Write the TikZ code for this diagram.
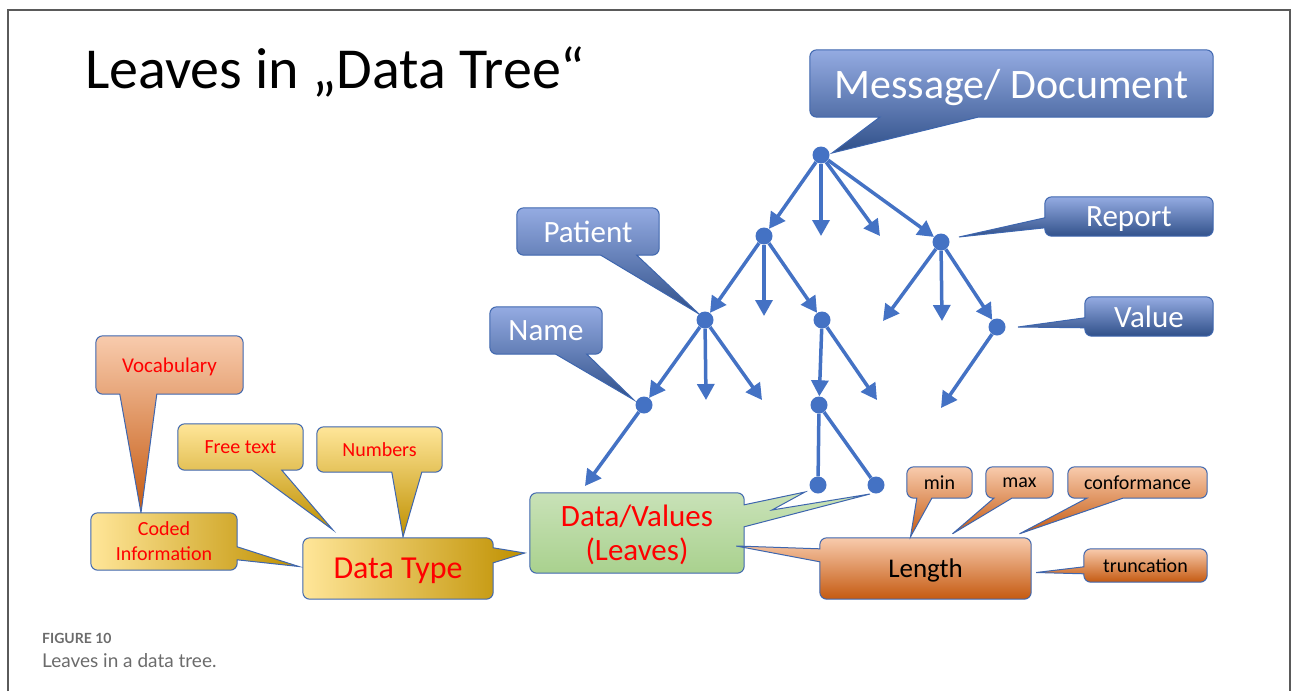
\documentclass[tikz,border=0pt]{standalone}
\usepackage{fontspec}
\setmainfont{Carlito}
\newfontfamily\latofont{Lato}
\usetikzlibrary{arrows.meta,calc,backgrounds}

\definecolor{treeblue}{HTML}{4472C4}
\definecolor{rimblue}{HTML}{3E66AE}
\definecolor{framegray}{HTML}{5A5A5A}
\definecolor{capgray}{HTML}{6B6B6B}
\definecolor{officered}{HTML}{FF0000}

\newcommand\balloonS[5]{\path[#1] (#4) -- (#5) [rounded corners=7pt] -- (#2.south west) -- (#2.north west) -- (#2.north east) -- (#2.south east) [sharp corners] -- (#3) -- cycle;}
\newcommand\balloonW[5]{\path[#1] (#4) -- (#5) [rounded corners=7pt] -- (#2.north west) -- (#2.north east) -- (#2.south east) -- (#2.south west) [sharp corners] -- (#3) -- cycle;}
\newcommand\balloonE[5]{\path[#1] (#4) -- (#5) [rounded corners=7pt] -- (#2.south east) -- (#2.south west) -- (#2.north west) -- (#2.north east) [sharp corners] -- (#3) -- cycle;}

\tikzset{
  dot/.style={circle,fill=treeblue,inner sep=0pt,minimum size=17pt},
  arr/.style={draw=treeblue,line width=3.5pt,-{Triangle[length=16pt,width=17pt]}},
  twig/.style={draw=treeblue,line width=3.5pt},
  card/.style={inner sep=0pt,align=center,text depth=0pt},
  bluecard/.style={card,text=white},
  redcard/.style={card,text=officered},
  rim/.style={draw=rimblue,line width=1pt},
  blueshade/.style={rim,top color=blue!10!treeblue!55!white,middle color=treeblue!90!white,bottom color=treeblue!70!black},
  salmonshade/.style={rim,top color={rgb,255:red,248;green,203;blue,173},middle color={rgb,255:red,244;green,177;blue,131},bottom color={rgb,255:red,197;green,90;blue,17}},
  goldshade/.style={rim,top color={rgb,255:red,255;green,230;blue,153},middle color={rgb,255:red,255;green,217;blue,102},bottom color={rgb,255:red,191;green,144;blue,0}},
  goldside/.style={rim,left color={rgb,255:red,255;green,230;blue,153},middle color={rgb,255:red,255;green,217;blue,102},right color={rgb,255:red,191;green,144;blue,0}},
  greenshade/.style={rim,top color={rgb,255:red,201;green,226;blue,184},bottom color={rgb,255:red,169;green,209;blue,142}}
}

\begin{document}
\begin{tikzpicture}[x=1pt,y=-1pt]
\useasboundingbox (0,0) rectangle (1293,691);
\draw[framegray,line width=1.2pt] (8,691) -- (8,10) -- (1290,10) -- (1290,691);

\node[anchor=base west,inner sep=0pt,font=\fontsize{58}{70}\selectfont] (title) at (85,88) {Leaves in „Data Tree“};

\node[bluecard,minimum width=403pt,minimum height=67pt,font=\fontsize{42}{50}\selectfont] (msg) at (1011.5,83.5) {Message/ Document};
\node[bluecard,minimum width=142pt,minimum height=47pt,font=\fontsize{31}{37}\selectfont] (patient) at (588,231.5) {Patient};
\node[bluecard,minimum width=112pt,minimum height=47pt,font=\fontsize{31}{37}\selectfont] (name) at (546,330.5) {Name};
\node[bluecard,minimum width=168pt,minimum height=39pt,font=\fontsize{31}{37}\selectfont] (report) at (1129,216.5) {Report};
\node[bluecard,minimum width=128pt,minimum height=39pt,font=\fontsize{31}{37}\selectfont] (value) at (1149,316.5) {Value};

\node[redcard,minimum width=147pt,minimum height=58pt,font=\fontsize{21}{25}\selectfont] (vocab) at (169.5,365) {Vocabulary};
\node[redcard,minimum width=125pt,minimum height=46pt,font=\fontsize{20}{24}\selectfont] (free) at (240.5,447) {Free text};
\node[redcard,minimum width=125pt,minimum height=45pt,font=\fontsize{20}{24}\selectfont] (numbers) at (379.5,449.5) {Numbers};
\node[redcard,minimum width=146pt,minimum height=57pt,font=\fontsize{20}{25}\selectfont] (coded) at (164,541.5) {Coded\\Information};
\node[redcard,minimum width=190pt,minimum height=61pt,font=\fontsize{32}{38}\selectfont] (dtype) at (398,568.5) {Data Type};
\node[redcard,minimum width=214pt,minimum height=80pt,font=\fontsize{31}{34}\selectfont] (vals) at (637,533) {Data/Values\\(Leaves)};

\node[card,minimum width=211pt,minimum height=61pt,font=\fontsize{27}{32}\selectfont] (len) at (925.5,568.5) {Length};
\node[card,minimum width=65pt,minimum height=31pt,font=\fontsize{20}{24}\selectfont] (min) at (939.5,482.5) {min};
\node[card,minimum width=67pt,minimum height=31pt,font=\fontsize{20}{24}\selectfont] (max) at (1019.5,482.5) {max};
\node[card,minimum width=139pt,minimum height=31pt,font=\fontsize{20}{24}\selectfont] (conf) at (1137.5,482.5) {conformance};
\node[card,minimum width=123pt,minimum height=33pt,font=\fontsize{20}{24}\selectfont] (trunc) at (1145.5,565.5) {truncation};

\node[dot] (R) at (821,155) {};
\node[dot] (A) at (764,236) {};
\node[dot] (B) at (941,242) {};
\node[dot] (C) at (705,320) {};
\node[dot] (D) at (822,320) {};
\node[dot] (E) at (997,327) {};
\node[dot] (F) at (644,405) {};
\node[dot] (G) at (819,405) {};
\node[dot] (H) at (818,485) {};
\node[dot] (I) at (876,485) {};

\coordinate (r2) at (821,236);
\coordinate (r3) at (880,236);
\coordinate (a2) at (764,316);
\coordinate (b1) at (883,321);
\coordinate (b2) at (942,321);
\coordinate (c2) at (706,400);
\coordinate (c3) at (762,400);
\coordinate (d2) at (877,400);
\coordinate (e1) at (941,408);
\coordinate (f1) at (585,486);

\draw[arr] (R) -- (A);
\draw[arr] (R) -- (r2);
\draw[arr] (R) -- (r3);
\draw[arr] (R) -- (B);
\draw[arr] (A) -- (C);
\draw[arr] (A) -- (a2);
\draw[arr] (A) -- (D);
\draw[arr] (B) -- (b1);
\draw[arr] (B) -- (b2);
\draw[arr] (B) -- (E);
\draw[arr] (C) -- (F);
\draw[arr] (C) -- (c2);
\draw[arr] (C) -- (c3);
\draw[arr] (D) -- (G);
\draw[arr] (D) -- (d2);
\draw[arr] (E) -- (e1);
\draw[arr] (F) -- (f1);
\draw[twig] (G) -- (H);
\draw[twig] (G) -- (I);

\begin{scope}[on background layer]
\balloonS{blueshade}{msg}{$(msg.south west)+(168,0)$}{$(R)+(11,-2)$}{$(msg.south west)+(70,0)$}
\balloonS{blueshade}{patient}{$(patient.south west)+(120,0)$}{C.north west}{$(patient.south west)+(84,0)$}
\balloonS{blueshade}{name}{$(name.south west)+(97,0)$}{$(F)+(-10,-5)$}{$(name.south west)+(66,0)$}
\balloonW{blueshade}{report}{$(report.north west)+(0,31)$}{$(B)+(18,-5)$}{$(report.north west)+(0,21)$}
\balloonW{blueshade}{value}{$(value.north west)+(0,31)$}{$(E)+(21,0)$}{$(value.north west)+(0,21)$}
\balloonS{salmonshade}{vocab}{$(vocab.south west)+(61,0)$}{$(coded.north)+(-23,0)$}{$(vocab.south west)+(24,0)$}
\balloonS{goldshade}{free}{$(free.south west)+(104,0)$}{$(dtype.north west)+(30,-8)$}{$(free.south west)+(74,0)$}
\balloonS{goldshade}{numbers}{$(numbers.south west)+(105,0)$}{$(dtype.north)+(5,-1)$}{$(numbers.south west)+(75,0)$}
\balloonE{goldside}{coded}{$(coded.north east)+(0,34)$}{$(dtype.west)+(-4,-2)$}{$(coded.north east)+(0,47)$}
\balloonE{goldside}{dtype}{$(dtype.north east)+(0,10)$}{$(vals.west)+(-5,20)$}{$(dtype.north east)+(0,25)$}
\path[greenshade] ($(H)+(-13,7)$) -- (772,510) -- ($(I)+(-6,9)$) -- ($(vals.north east)+(0,34)$) [rounded corners=7pt] -- (vals.south east) -- (vals.south west) -- (vals.north west) -- (vals.north east) [sharp corners] -- ($(vals.north east)+(0,12)$) -- cycle;
\balloonW{salmonshade}{len}{$(len.north west)+(0,24)$}{$(vals.east)+(-8,13)$}{$(len.north west)+(0,11)$}
\balloonS{salmonshade}{min}{$(min.south west)+(25,0)$}{$(len.north)+(-15,-1)$}{$(min.south west)+(10,0)$}
\balloonS{salmonshade}{max}{$(max.south west)+(26,0)$}{$(len.north)+(27,-4)$}{$(max.south west)+(8,0)$}
\balloonS{salmonshade}{conf}{$(conf.south west)+(55,0)$}{$(len.north)+(94,-4)$}{$(conf.south west)+(19,0)$}
\balloonW{salmonshade}{trunc}{$(trunc.north west)+(0,25)$}{$(len.east)+(5,4)$}{$(trunc.north west)+(0,18)$}
\end{scope}

\node[anchor=base west,inner sep=0pt,text=capgray,font=\latofont\bfseries\fontsize{14}{17}\selectfont] (fig) at (42,643) {FIGURE 10};
\node[anchor=base west,inner sep=0pt,text=capgray,font=\latofont\fontsize{19}{23}\selectfont] (cap) at (42,667) {Leaves in a data tree.};
\end{tikzpicture}
\end{document}
